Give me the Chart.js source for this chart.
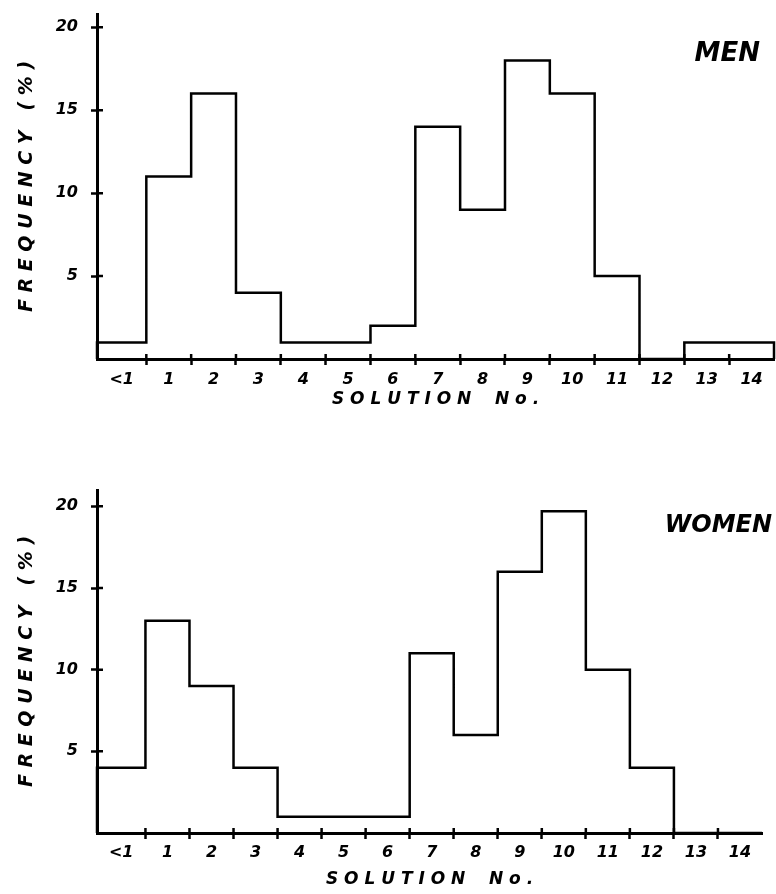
<!DOCTYPE html>
<html>
<head>
<meta charset="utf-8">
<script src="https://cdn.jsdelivr.net/npm/chart.js@4.4.0/dist/chart.umd.min.js"></script>
<style>
  html, body { margin: 0; padding: 0; background: #fff; }
  .panel { width: 776px; height: 447px; }
  canvas { display: block; }
</style>
</head>
<body>
<div class="panel"><canvas id="menChart" width="776" height="447"></canvas></div>
<div class="panel"><canvas id="womenChart" width="776" height="447"></canvas></div>
<script>
// Solution number bins (the "<1" bin is a little wider than the others)
const solutionLabels = ['<1', '1', '2', '3', '4', '5', '6', '7', '8', '9', '10', '11', '12', '13', '14'];
const binEdges = [-0.6, 0.5, 1.5, 2.5, 3.5, 4.5, 5.5, 6.5, 7.5, 8.5, 9.5, 10.5, 11.5, 12.5, 13.5, 14.5];

// Frequency (%) per solution
const menFreq = [1, 11, 16, 4, 1, 1, 2, 14, 9, 18, 16, 5, 0, 1, 1];
const womenFreq = [4, 13, 9, 4, 1, 1, 1, 11, 6, 16, 19.7, 10, 4, 0, 0];

const yTicks = [5, 10, 15, 20];

const labelPositions = solutionLabels.map((_, i) => (binEdges[i] + binEdges[i + 1]) / 2);
const innerEdges = binEdges.slice(1, -1);

const handFont = (size) => ({ family: 'DejaVu Sans', size: size, style: 'italic', weight: 'bold' });

// histogram outline as a stepped line through the bin edges
function outline(values) {
    const pts = [{ x: binEdges[0], y: 0 }];
    values.forEach((v, i) => pts.push({ x: binEdges[i], y: v }));
    pts.push({ x: binEdges[binEdges.length - 1], y: values[values.length - 1] });
    pts.push({ x: binEdges[binEdges.length - 1], y: 0 });
    return pts;
}

// tick marks that cross the axis line (Chart.js draws the outer half)
const crossTicks = {
    id: 'crossTicks',
    afterDraw(chart) {
        const ctx = chart.ctx;
        const area = chart.chartArea;
        const xs = chart.scales.x;
        const ys = chart.scales.y;
        ctx.save();
        ctx.strokeStyle = '#000';
        ctx.lineWidth = 2.5;
        ctx.beginPath();
        xs.ticks.forEach(t => {
            if (innerEdges.includes(t.value)) {
                const px = xs.getPixelForValue(t.value);
                ctx.moveTo(px, area.bottom);
                ctx.lineTo(px, area.bottom - 5);
            }
        });
        ys.ticks.forEach(t => {
            const py = ys.getPixelForValue(t.value);
            ctx.moveTo(area.left, py);
            ctx.lineTo(area.left + 6, py);
        });
        ctx.stroke();
        ctx.restore();
    }
};

const panelLabel = {
    id: 'panelLabel',
    afterDraw(chart, args, opts) {
        const ctx = chart.ctx;
        ctx.save();
        ctx.font = opts.font;
        ctx.fillStyle = '#000';
        ctx.textAlign = 'right';
        ctx.textBaseline = 'middle';
        ctx.fillText(opts.text, opts.x, opts.y);
        ctx.restore();
    }
};

function makeChart(id, values, label, p) {
    const ctx = document.getElementById(id).getContext('2d');
    return new Chart(ctx, {
        type: 'line',
        data: {
            datasets: [{
                label: label,
                data: outline(values),
                stepped: 'before',
                borderColor: '#000',
                borderWidth: 2.5,
                pointRadius: 0,
                fill: false,
                clip: false
            }]
        },
        plugins: [crossTicks, panelLabel],
        options: {
            responsive: false,
            animation: false,
            layout: {
                padding: { top: p.top, right: p.right, left: 0, bottom: 0 }
            },
            scales: {
                x: {
                    type: 'linear',
                    min: binEdges[0],
                    max: binEdges[binEdges.length - 1],
                    afterBuildTicks: function (scale) {
                        scale.ticks = innerEdges.concat(labelPositions)
                            .sort((a, b) => a - b)
                            .map(v => ({ value: v }));
                    },
                    afterFit: function (scale) {
                        scale.height = p.xHeight;
                    },
                    ticks: {
                        autoSkip: false,
                        maxRotation: 0,
                        padding: p.xPad,
                        color: '#000',
                        font: handFont(16),
                        callback: function (value) {
                            const i = labelPositions.indexOf(value);
                            return i >= 0 ? solutionLabels[i] : '';
                        }
                    },
                    grid: {
                        drawOnChartArea: false,
                        drawTicks: true,
                        tickLength: 6,
                        tickWidth: 2.5,
                        tickColor: function (c) {
                            return c.tick && innerEdges.includes(c.tick.value) ? '#000' : 'rgba(0,0,0,0)';
                        }
                    },
                    border: { display: true, color: '#000', width: 3 },
                    title: {
                        display: true,
                        text: 'S O L U T I O N    N o .',
                        color: '#000',
                        font: handFont(17),
                        padding: { top: 0, bottom: p.titleBottom }
                    }
                },
                y: {
                    min: 0,
                    max: p.yMax,
                    afterBuildTicks: function (scale) {
                        scale.ticks = yTicks.map(v => ({ value: v }));
                    },
                    afterFit: function (scale) {
                        scale.width = 97;
                        scale.paddingTop = 0;
                        scale.paddingBottom = 0;
                    },
                    ticks: {
                        padding: 13,
                        color: '#000',
                        font: handFont(16)
                    },
                    grid: {
                        drawOnChartArea: false,
                        drawTicks: true,
                        tickLength: 6,
                        tickWidth: 2.5,
                        tickColor: '#000'
                    },
                    border: { display: true, color: '#000', width: 3 },
                    title: {
                        display: true,
                        text: 'F R E Q U E N C Y   ( % )',
                        color: '#000',
                        font: handFont(19),
                        padding: { top: 16, bottom: 0 }
                    }
                }
            },
            plugins: {
                legend: { display: false },
                tooltip: { enabled: false },
                panelLabel: {
                    text: label,
                    x: p.labelX,
                    y: p.labelY,
                    font: 'italic bold ' + p.labelSize + 'px "DejaVu Sans"'
                }
            }
        }
    });
}

const menChart = makeChart('menChart', menFreq, 'MEN', {
    top: 14, right: 2, xHeight: 88, xPad: 5, titleBottom: 37, yMax: 20.8,
    labelX: 760, labelY: 54, labelSize: 26
});
const womenChart = makeChart('womenChart', womenFreq, 'WOMEN', {
    top: 43, right: 14, xHeight: 61, xPad: 4, titleBottom: 4, yMax: 21,
    labelX: 772, labelY: 79, labelSize: 24
});
</script>
</body>
</html>
